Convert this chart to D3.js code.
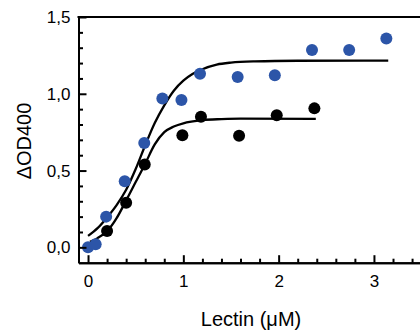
<!DOCTYPE html>
<html>
<head>
<meta charset="utf-8">
<script src="https://cdn.jsdelivr.net/npm/d3@7"></script>
<style>
  body { margin: 0; background: #fff; }
  svg text { font-family: "Liberation Sans", Arial, sans-serif; fill: #000; }
</style>
</head>
<body>
<div id="chart"></div>
<script>
// blue series (measured points)
const blueX = [0, 0.08, 0.19, 0.385, 0.59, 0.78, 0.98, 1.175, 1.57, 1.96, 2.35, 2.74, 3.13];
const blueY = [0.0, 0.02, 0.20, 0.43, 0.68, 0.97, 0.96, 1.13, 1.11, 1.12, 1.285, 1.285, 1.36];

// black series (measured points)
const blackX = [0.2, 0.40, 0.595, 0.99, 1.185, 1.585, 1.98, 2.375];
const blackY = [0.106, 0.29, 0.54, 0.73, 0.85, 0.727, 0.86, 0.905];

// fitted curves
const fitBlueX = [0, 0.10, 0.20, 0.30, 0.40, 0.50, 0.60, 0.70, 0.80, 0.90, 1.00, 1.10, 1.20, 1.35, 1.50, 1.75, 2.20, 3.15];
const fitBlueY = [0.075, 0.125, 0.195, 0.275, 0.375, 0.51, 0.665, 0.81, 0.925, 1.02, 1.085, 1.13, 1.16, 1.19, 1.203, 1.211, 1.215, 1.216];
const fitBlackX = [0.02, 0.10, 0.20, 0.30, 0.40, 0.50, 0.60, 0.70, 0.80, 0.90, 1.00, 1.10, 1.20, 1.40, 1.60, 2.39];
const fitBlackY = [0.036, 0.06, 0.105, 0.19, 0.305, 0.425, 0.545, 0.67, 0.75, 0.787, 0.808, 0.82, 0.829, 0.835, 0.838, 0.837];

const xMajor = [0, 1, 2, 3];
const xMinor = [0.2, 0.4, 0.6, 0.8, 1.2, 1.4, 1.6, 1.8, 2.2, 2.4, 2.6, 2.8, 3.2, 3.4];
const yMajor = [0, 0.5, 1.0, 1.5];
const yMinor = [0.1, 0.2, 0.3, 0.4, 0.6, 0.7, 0.8, 0.9, 1.1, 1.2, 1.3, 1.4];

const width = 420, height = 332;

const svg = d3.select("#chart").append("svg")
    .attr("width", width)
    .attr("height", height);

const x = d3.scaleLinear().domain([-0.1, 3.5]).range([78.5, 421.6]);
const y = d3.scaleLinear().domain([-0.1, 1.5]).range([262.7, 17]);

const comma = d => d3.format(".1f")(d).replace(".", ",");

// curves
const line = d3.line()
    .x(d => x(d[0]))
    .y(d => y(d[1]))
    .curve(d3.curveMonotoneX);

svg.append("path")
    .datum(fitBlueX.map((v, i) => [v, fitBlueY[i]]))
    .attr("d", line)
    .attr("fill", "none")
    .attr("stroke", "#000")
    .attr("stroke-width", 2.3);

svg.append("path")
    .datum(fitBlackX.map((v, i) => [v, fitBlackY[i]]))
    .attr("d", line)
    .attr("fill", "none")
    .attr("stroke", "#000")
    .attr("stroke-width", 2.3);

// points
svg.selectAll(".blue")
    .data(blueX.map((v, i) => [v, blueY[i]]))
    .enter().append("circle")
    .attr("class", "blue")
    .attr("cx", d => x(d[0]))
    .attr("cy", d => y(d[1]))
    .attr("r", 6)
    .attr("fill", "#2c55a8");

svg.selectAll(".black")
    .data(blackX.map((v, i) => [v, blackY[i]]))
    .enter().append("circle")
    .attr("class", "black")
    .attr("cx", d => x(d[0]))
    .attr("cy", d => y(d[1]))
    .attr("r", 6)
    .attr("fill", "#000");

// axes (ticks point inward)
const styleAxis = g => {
    g.selectAll("line").attr("stroke", "#000").attr("stroke-width", 2);
    g.selectAll("path").attr("stroke", "#000").attr("stroke-width", 2);
    g.selectAll("text").attr("font-size", 17).attr("fill", "#000")
        .attr("font-family", "Liberation Sans, Arial, sans-serif");
};

svg.append("g")
    .attr("transform", "translate(0," + y(-0.1) + ")")
    .call(d3.axisBottom(x).tickValues(xMinor).tickSizeInner(-4).tickSizeOuter(0).tickFormat(""))
    .call(styleAxis);

svg.append("g")
    .attr("transform", "translate(0," + y(-0.1) + ")")
    .call(d3.axisBottom(x).tickValues(xMajor).tickSizeInner(-7.5).tickSizeOuter(0).tickPadding(12.5).tickFormat(d3.format("d")))
    .call(styleAxis);

svg.append("g")
    .attr("transform", "translate(" + x(-0.1) + ",0)")
    .call(d3.axisLeft(y).tickValues(yMinor).tickSizeInner(-4.5).tickSizeOuter(0).tickFormat(""))
    .call(styleAxis);

svg.append("g")
    .attr("transform", "translate(" + x(-0.1) + ",0)")
    .call(d3.axisLeft(y).tickValues(yMajor).tickSizeInner(-8).tickSizeOuter(0).tickPadding(8).tickFormat(comma))
    .call(styleAxis);

// top border
svg.append("line")
    .attr("x1", x(-0.1) - 1).attr("x2", x(3.5))
    .attr("y1", y(1.5)).attr("y2", y(1.5))
    .attr("stroke", "#000")
    .attr("stroke-width", 2);

// axis titles
svg.append("text")
    .attr("x", 251)
    .attr("y", 326)
    .attr("text-anchor", "middle")
    .attr("font-size", 20)
    .text("Lectin (μM)");

svg.append("text")
    .attr("transform", "translate(31,141) rotate(-90)")
    .attr("text-anchor", "middle")
    .attr("font-size", 20)
    .text("ΔOD400");
</script>
</body>
</html>
